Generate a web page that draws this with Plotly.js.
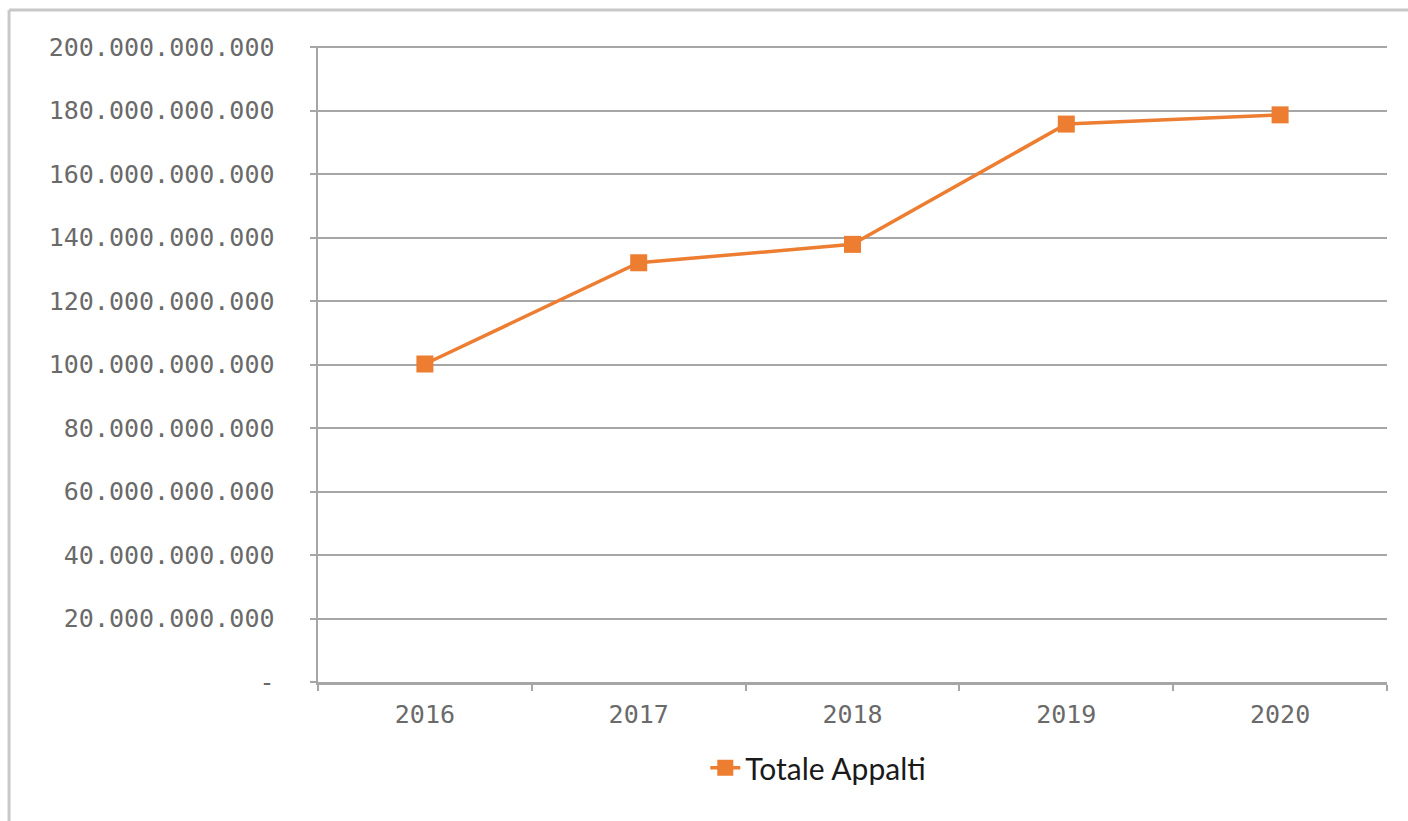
<!DOCTYPE html>
<html>
<head>
<meta charset="utf-8">
<script src="https://cdn.plot.ly/plotly-3.0.1.min.js"></script>
<style>
html,body{margin:0;padding:0;background:#fff;}
#chart{width:1408px;height:821px;}
</style>
</head>
<body>
<div id="chart"></div>
<script>
const years = ['2016', '2017', '2018', '2019', '2020'];
const totaleAppalti = [100.2e9, 132.1e9, 137.9e9, 175.8e9, 178.7e9];
const yTickValues = [0, 20e9, 40e9, 60e9, 80e9, 100e9, 120e9, 140e9, 160e9, 180e9, 200e9];
const yTickLabels = ['-', '20.000.000.000', '40.000.000.000', '60.000.000.000', '80.000.000.000',
  '100.000.000.000', '120.000.000.000', '140.000.000.000', '160.000.000.000', '180.000.000.000', '200.000.000.000'];
const seriesName = 'Totale Appalti';

const orange = '#ED7D31';
const gridGray = '#A6A6A6';
const tickFont = {family: 'DejaVu Sans Mono, monospace', size: 25, color: '#6a6a6a'};

const trace = {
  x: years,
  y: totaleAppalti,
  type: 'scatter',
  mode: 'lines+markers',
  name: seriesName,
  line: {color: orange, width: 3.5},
  marker: {color: orange, symbol: 'square', size: 17}
};

const layout = {
  width: 1408,
  height: 821,
  margin: {l: 318, r: 21, t: 46, b: 139},
  paper_bgcolor: '#fff',
  plot_bgcolor: '#fff',
  showlegend: true,
  legend: {
    orientation: 'h',
    x: 0.468, xanchor: 'center',
    y: -0.135, yanchor: 'middle',
    font: {family: 'Lato, sans-serif', size: 30, color: '#1a1a1a'},
    bgcolor: 'rgba(0,0,0,0)'
  },
  xaxis: {
    type: 'category',
    range: [-0.5, 4.5],
    tickson: 'boundaries',
    ticks: 'outside',
    ticklen: 6,
    tickwidth: 2,
    tickcolor: gridGray,
    showline: true,
    linecolor: gridGray,
    linewidth: 2.5,
    showgrid: false,
    tickfont: tickFont,
    ticklabelstandoff: 8,
    fixedrange: true
  },
  yaxis: {
    range: [0, 200.4e9],
    tickvals: yTickValues,
    ticktext: yTickLabels,
    ticks: 'outside',
    ticklen: 6,
    tickwidth: 2,
    tickcolor: gridGray,
    showline: true,
    linecolor: gridGray,
    linewidth: 2.5,
    showgrid: true,
    gridcolor: gridGray,
    gridwidth: 2,
    zeroline: false,
    tickfont: tickFont,
    ticklabelstandoff: 30,
    fixedrange: true
  },
  shapes: [
    {type: 'line', xref: 'paper', yref: 'paper', x0: -0.289, x1: 1.05, y0: 1.0567, y1: 1.0567,
     line: {color: '#C8C8C8', width: 3}},
    {type: 'line', xref: 'paper', yref: 'paper', x0: -0.289, x1: -0.289, y0: 1.0567, y1: -0.25,
     line: {color: '#C8C8C8', width: 3}}
  ]
};

Plotly.newPlot('chart', [trace], layout, {displayModeBar: false, staticPlot: true});
</script>
</body>
</html>
